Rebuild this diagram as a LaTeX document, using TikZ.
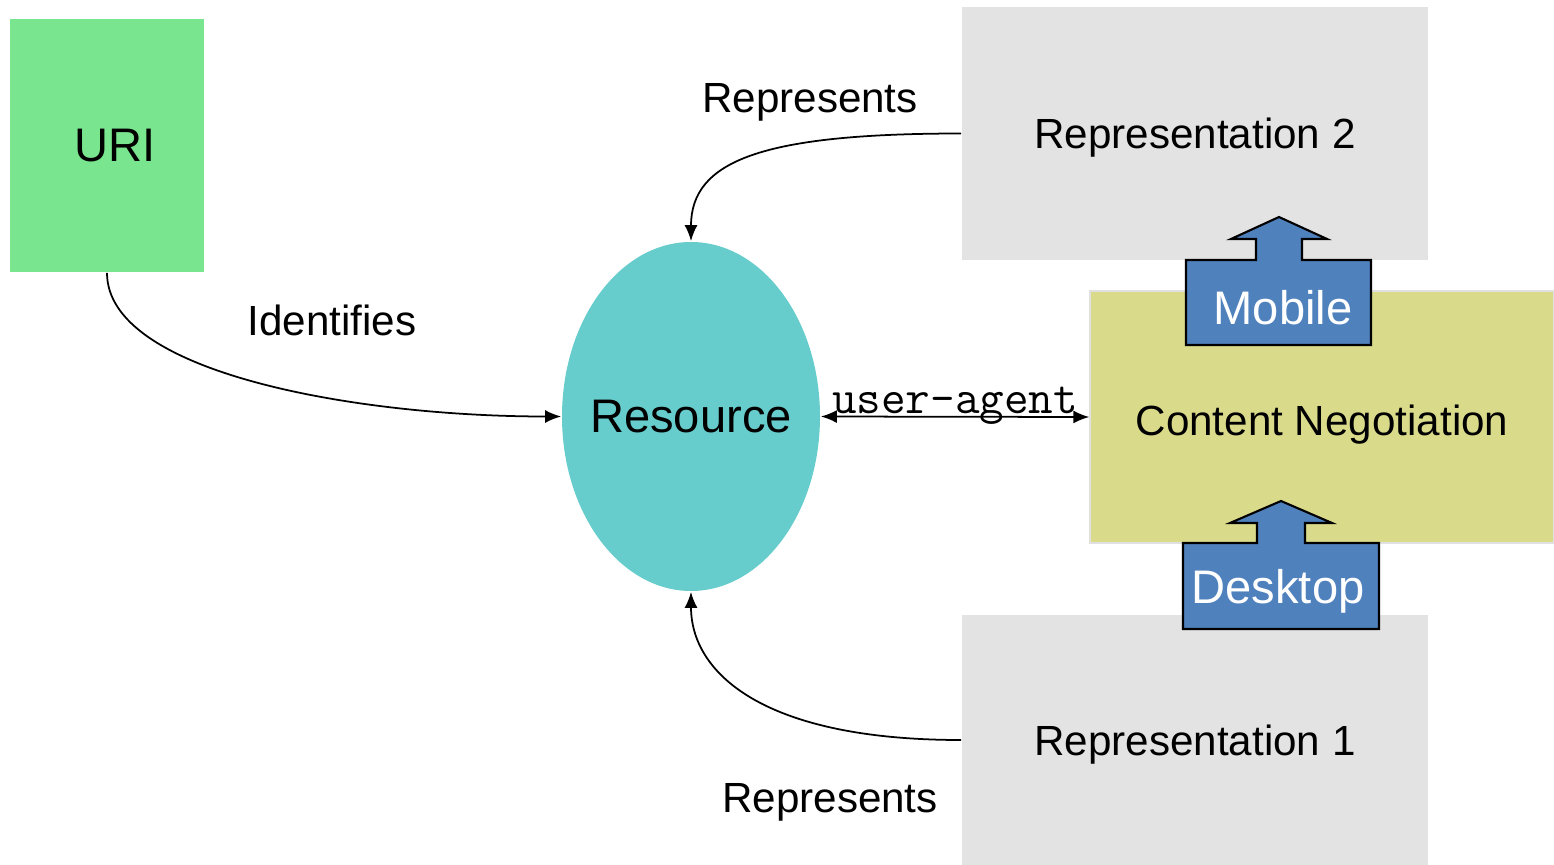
\documentclass[tikz,border=0pt]{standalone}
\usepackage{fontspec}
\setmainfont{Liberation Sans}
\usetikzlibrary{arrows.meta,shapes.geometric,positioning}

\definecolor{urigreen}{HTML}{79E68F}
\definecolor{restEal}{HTML}{66CCCC}
\definecolor{repgray}{HTML}{E3E3E3}
\definecolor{negyellow}{HTML}{DADB8A}
\definecolor{tagblue}{HTML}{4F81BD}

\begin{document}
\begin{tikzpicture}[x=0.1mm,y=-0.1mm,>={Latex[length=1.6mm,width=1.3mm]},line width=0.5pt,
  lbl/.style={font=\fontsize{12}{14}\selectfont},
  big/.style={font=\fontsize{13.4}{16}\selectfont},
  box/.style={rectangle,inner sep=0pt,text depth=0pt,lbl},
  tagline/.style={fill=tagblue,draw=black,line width=0.6pt},
  tagtext/.style={big,text=white}]
\useasboundingbox (0,0) rectangle (1554,865);

\node[box,big,fill=urigreen,minimum width=19.4mm,minimum height=25.3mm] (uri) at (107,145.5) {\hspace{1.6mm}URI};
\node[ellipse,inner sep=0pt,big,fill=restEal,minimum width=25.8mm,minimum height=34.9mm] (res) at (691,416.5) {\makebox[0pt]{Resource}};
\node[box,fill=repgray,minimum width=46.6mm,minimum height=25.3mm] (rep2) at (1195,133.5) {Representation 2};
\node[box,fill=repgray,minimum width=46.6mm,minimum height=25mm] (rep1) at (1195,740) {Representation 1};
\node[box,fill=negyellow,draw=black!12,line width=0.4pt,minimum width=46.4mm,minimum height=25.2mm] (neg) at (1322,417) {\raisebox{-0.6mm}{Content Negotiation}};

% block arrows
\filldraw[tagline] (1186,345) -- (1186,260) -- (1256,260) -- (1256,239) -- (1231,239) -- (1279,217)
  -- (1327,239) -- (1302,239) -- (1302,260) -- (1371,260) -- (1371,345) -- cycle;
\node[tagtext] (mobile) at (1283,308) {Mobile};
\filldraw[tagline] (1183,629) -- (1183,543) -- (1257,543) -- (1257,523) -- (1230,523) -- (1281,501)
  -- (1332,523) -- (1305,523) -- (1305,543) -- (1379,543) -- (1379,629) -- cycle;
\node[tagtext,text depth=0pt] (desktop) at (1278,586) {Desktop};

% connectors
\draw[->] (uri.south) .. controls +(0,100) and +(-205,0) .. (res.west);
\draw[->] (rep2.west) .. controls +(-200,0) and +(0,-80) .. (res.north);
\draw[->] (rep1.west) .. controls +(-200,0) and +(0,80) .. (res.south);
\path[<->] (res.east) edge node[anchor=base,yshift=1pt,inner sep=0pt,font=\ttfamily\fontsize{13.6}{16}\selectfont] {user-agent} (neg.west);

\node[lbl] (ident) at (332,320) {Identifies};
\node[lbl] (rep2lbl) at (810,102) {Represents};
\node[lbl] (rep1lbl) at (830,802) {Represents};
\end{tikzpicture}
\end{document}
